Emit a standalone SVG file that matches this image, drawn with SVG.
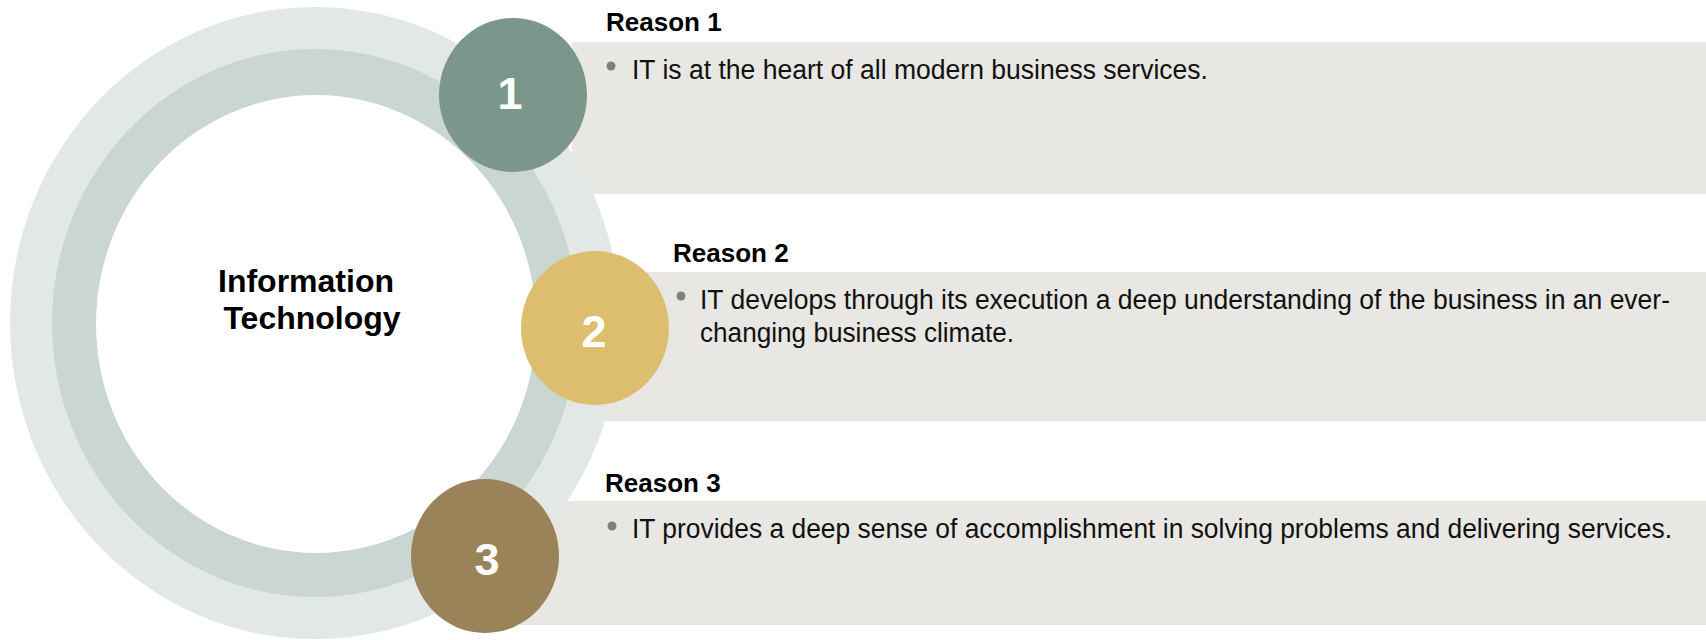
<svg xmlns="http://www.w3.org/2000/svg" width="1706" height="640" viewBox="0 0 1706 640">
<style>
.box{fill:#E8E7E3}
.label{font-family:"Liberation Sans",Arial,sans-serif;font-weight:bold;font-size:26px;fill:#000}
.body{font-family:"Liberation Sans",Arial,sans-serif;font-size:27px;fill:#111}
.num{font-family:"Liberation Sans",Arial,sans-serif;font-weight:bold;font-size:45px;fill:#fff;text-anchor:middle}
.title{font-family:"Liberation Sans",Arial,sans-serif;font-weight:bold;font-size:32px;fill:#000;text-anchor:middle}
.bullet{fill:#808080}
</style>
<rect width="1706" height="640" fill="#fff"/>
<g id="panels">
<rect class="box" x="572" y="42" width="1134" height="152"/>
<rect class="box" x="582" y="272" width="1124" height="149"/>
<rect class="box" x="520" y="501" width="1186" height="124"/>
</g>
<g id="hub">
<ellipse cx="315" cy="323" rx="305" ry="316" fill="#E2E8E6"/>
<ellipse cx="315" cy="323" rx="263" ry="274" fill="#C9D6D2"/>
<ellipse cx="316" cy="324" rx="220" ry="229" fill="#fff"/>
<text class="title" x="306" y="292">Information</text>
<text class="title" x="312" y="329">Technology</text>
</g>
<g id="reason1">
<ellipse cx="513" cy="95" rx="74" ry="77" fill="#7B968B"/>
<text class="num" x="510" y="109">1</text>
<text class="label" x="606" y="31">Reason 1</text>
<circle class="bullet" cx="611" cy="66" r="4.5"/>
<text class="body" x="632" y="79" textLength="576" lengthAdjust="spacingAndGlyphs">IT is at the heart of all modern business services.</text>
</g>
<g id="reason2">
<ellipse cx="595" cy="328" rx="74" ry="77" fill="#DDBD6E"/>
<text class="num" x="594" y="347">2</text>
<text class="label" x="673" y="262">Reason 2</text>
<circle class="bullet" cx="681" cy="296" r="4.5"/>
<text class="body" x="700" y="309" textLength="970" lengthAdjust="spacingAndGlyphs">IT develops through its execution a deep understanding of the business in an ever-</text>
<text class="body" x="700" y="342" textLength="314" lengthAdjust="spacingAndGlyphs">changing business climate.</text>
</g>
<g id="reason3">
<ellipse cx="485" cy="556" rx="74" ry="77" fill="#9A8259"/>
<text class="num" x="487" y="575">3</text>
<text class="label" x="605" y="492">Reason 3</text>
<circle class="bullet" cx="612" cy="526" r="4.5"/>
<text class="body" x="632" y="538" textLength="1040" lengthAdjust="spacingAndGlyphs">IT provides a deep sense of accomplishment in solving problems and delivering services.</text>
</g>
</svg>
